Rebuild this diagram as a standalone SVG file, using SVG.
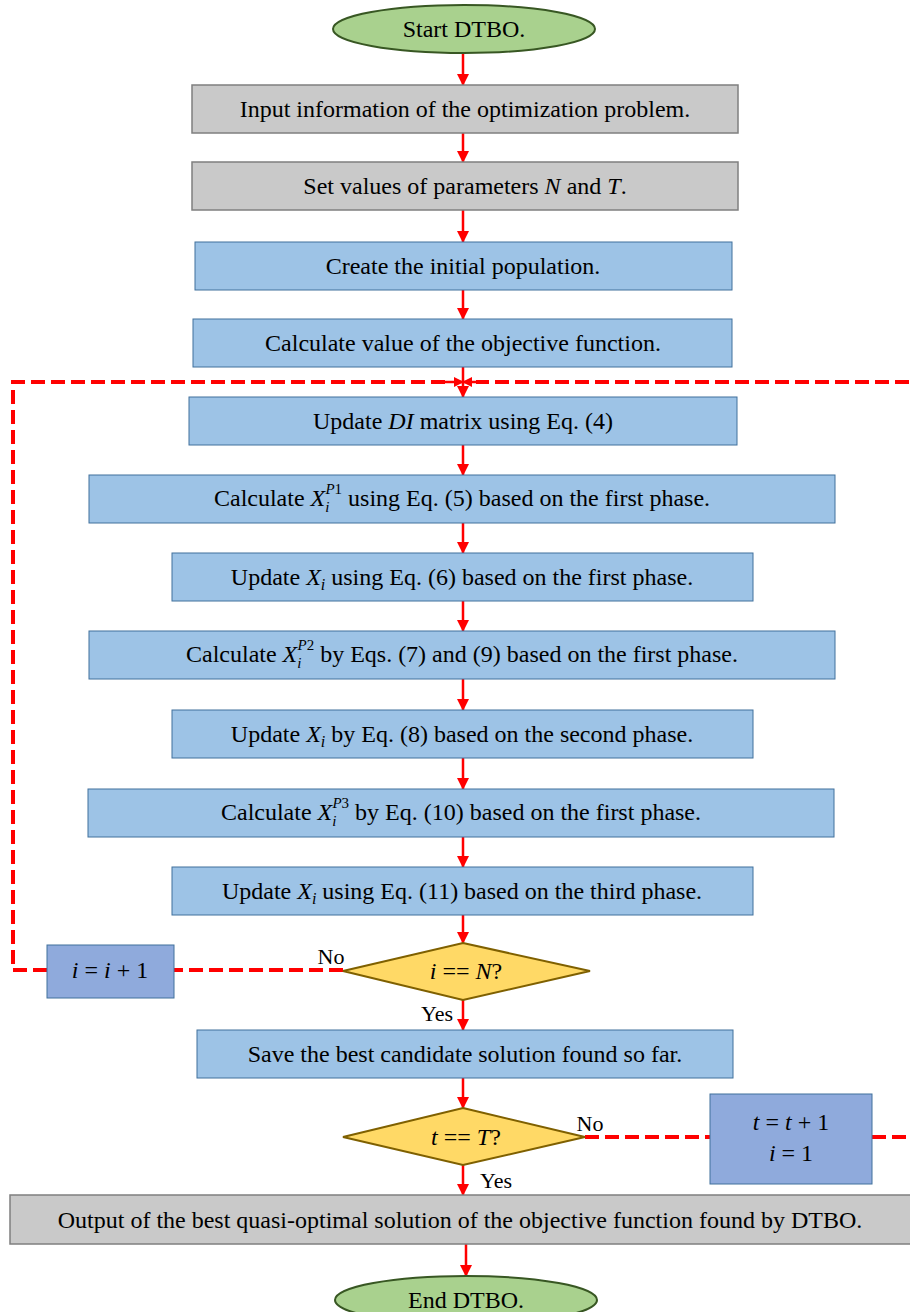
<svg xmlns="http://www.w3.org/2000/svg" width="910" height="1312" viewBox="0 0 910 1312">
<defs>
<style>
.t{font-family:"Liberation Serif","Times New Roman",serif;font-size:24px;fill:#000;text-anchor:middle}
.s{font-size:22px}
.m{font-style:italic}
.gray{fill:#c9c9c9;stroke:#7f7f7f;stroke-width:1.5}
.blue{fill:#9dc3e6;stroke:#41719c;stroke-width:1}
.blue2{fill:#8faadc;stroke:#41719c;stroke-width:1}
.ell{fill:#a9d18e;stroke:#385723;stroke-width:2}
.dia{fill:#ffd966;stroke:#7f6000;stroke-width:2}
.a{stroke:#ff0000;stroke-width:2.5;fill:none}
.d{stroke:#ff0000;stroke-width:4;fill:none;stroke-dasharray:14 6}
</style>
<marker id="ah" markerWidth="10" markerHeight="10" refX="9" refY="5" orient="auto" markerUnits="userSpaceOnUse" viewBox="0 0 10 10">
<path d="M0,0 L10,5 L0,10 z" fill="#ff0000"/>
</marker>
<marker id="ah2" markerWidth="12" markerHeight="12" refX="11" refY="6" orient="auto" markerUnits="userSpaceOnUse" viewBox="0 0 12 12">
<path d="M0,0 L12,6 L0,12 z" fill="#ff0000"/>
</marker>
</defs>

<g id="connectors">
<line class="a" x1="463" y1="53" x2="463" y2="85" marker-end="url(#ah2)"/>
<line class="a" x1="463" y1="133" x2="463" y2="162" marker-end="url(#ah2)"/>
<line class="a" x1="463" y1="210" x2="463" y2="242" marker-end="url(#ah2)"/>
<line class="a" x1="463" y1="290" x2="463" y2="319" marker-end="url(#ah2)"/>
<line class="a" x1="463" y1="367" x2="463" y2="397" marker-end="url(#ah2)"/>
<line class="a" x1="463" y1="445" x2="463" y2="475" marker-end="url(#ah2)"/>
<line class="a" x1="463" y1="523" x2="463" y2="553" marker-end="url(#ah2)"/>
<line class="a" x1="463" y1="601" x2="463" y2="631" marker-end="url(#ah2)"/>
<line class="a" x1="463" y1="679" x2="463" y2="710" marker-end="url(#ah2)"/>
<line class="a" x1="463" y1="758" x2="463" y2="789" marker-end="url(#ah2)"/>
<line class="a" x1="463" y1="837" x2="463" y2="867" marker-end="url(#ah2)"/>
<line class="a" x1="463" y1="915" x2="463" y2="943" marker-end="url(#ah2)"/>
<line class="a" x1="463" y1="1000" x2="463" y2="1030" marker-end="url(#ah2)"/>
<line class="a" x1="463" y1="1078" x2="463" y2="1108" marker-end="url(#ah2)"/>
<line class="a" x1="463" y1="1165" x2="463" y2="1195" marker-end="url(#ah2)"/>
<line class="a" x1="466" y1="1244" x2="466" y2="1276" marker-end="url(#ah2)"/>
<polyline class="d" points="343,970 174,970"/>
<polyline class="d" points="47,970 13,970 13,382 450,382"/>
<line class="a" x1="445" y1="382" x2="463" y2="382" marker-end="url(#ah)"/>
<polyline class="d" points="585,1137 710,1137"/>
<polyline class="d" points="872,1137 913,1137 913,382 476,382"/>
<line class="a" x1="481" y1="382" x2="463" y2="382" marker-end="url(#ah)"/>
<text class="t s" x="331" y="964">No</text>
<text class="t s" x="437" y="1021">Yes</text>
<text class="t s" x="590" y="1131">No</text>
<text class="t s" x="496" y="1188">Yes</text>
</g>

<g id="start">
<ellipse class="ell" cx="464" cy="29" rx="131" ry="24"/>
<text class="t" x="464" y="37">Start DTBO.</text>
</g>
<g id="input">
<rect class="gray" x="192" y="85" width="546" height="48"/>
<text class="t" x="465" y="117">Input information of the optimization problem.</text>
</g>
<g id="params">
<rect class="gray" x="192" y="162" width="546" height="48"/>
<text class="t" x="465" y="194">Set values of parameters <tspan class="m">N</tspan> and <tspan class="m">T</tspan>.</text>
</g>
<g id="init">
<rect class="blue" x="195" y="242" width="537" height="48"/>
<text class="t" x="463" y="274">Create the initial population.</text>
</g>
<g id="evaluate">
<rect class="blue" x="193" y="319" width="539" height="48"/>
<text class="t" x="463" y="351">Calculate value of the objective function.</text>
</g>
<g id="updateDI">
<rect class="blue" x="189" y="397" width="548" height="48"/>
<text class="t" x="463" y="429">Update  <tspan class="m">DI</tspan> matrix using Eq. (4)</text>
</g>
<g id="calcP1">
<rect class="blue" x="89" y="475" width="746" height="48"/>
<text class="t" x="462" y="506">Calculate  <tspan class="m">X</tspan><tspan class="m" font-size="15" dy="6">i</tspan><tspan font-size="15" dx="-4" dy="-18"><tspan class="m">P</tspan>1</tspan><tspan dy="12"> using Eq. (5) based on the first phase.</tspan></text>
</g>
<g id="update1">
<rect class="blue" x="172" y="553" width="581" height="48"/>
<text class="t" x="462" y="585">Update  <tspan class="m">X</tspan><tspan class="m" font-size="16" dy="5">i</tspan><tspan dy="-5"> using Eq. (6) based on the first phase.</tspan></text>
</g>
<g id="calcP2">
<rect class="blue" x="89" y="631" width="746" height="48"/>
<text class="t" x="462" y="662">Calculate  <tspan class="m">X</tspan><tspan class="m" font-size="15" dy="6">i</tspan><tspan font-size="15" dx="-4" dy="-18"><tspan class="m">P</tspan>2</tspan><tspan dy="12"> by Eqs. (7) and (9) based on the first phase.</tspan></text>
</g>
<g id="update2">
<rect class="blue" x="172" y="710" width="581" height="48"/>
<text class="t" x="462" y="742">Update  <tspan class="m">X</tspan><tspan class="m" font-size="16" dy="5">i</tspan><tspan dy="-5"> by Eq. (8) based on the second phase.</tspan></text>
</g>
<g id="calcP3">
<rect class="blue" x="88" y="789" width="746" height="48"/>
<text class="t" x="461" y="820">Calculate  <tspan class="m">X</tspan><tspan class="m" font-size="15" dy="6">i</tspan><tspan font-size="15" dx="-4" dy="-18"><tspan class="m">P</tspan>3</tspan><tspan dy="12"> by Eq. (10) based on the first phase.</tspan></text>
</g>
<g id="update3">
<rect class="blue" x="172" y="867" width="581" height="48"/>
<text class="t" x="462" y="899">Update  <tspan class="m">X</tspan><tspan class="m" font-size="16" dy="5">i</tspan><tspan dy="-5"> using Eq. (11) based on the third phase.</tspan></text>
</g>
<g id="checkN">
<polygon class="dia" points="463,943 590,971 463,1000 343,971"/>
<text class="t" x="466" y="979"><tspan class="m">i</tspan> ==  <tspan class="m">N</tspan>?</text>
</g>
<g id="incI">
<rect class="blue2" x="47" y="945" width="127" height="53"/>
<text class="t" x="110" y="978"><tspan class="m">i</tspan> = <tspan class="m">i</tspan> + 1</text>
</g>
<g id="save">
<rect class="blue" x="197" y="1030" width="536" height="48"/>
<text class="t" x="465" y="1062">Save the best candidate solution found so far.</text>
</g>
<g id="checkT">
<polygon class="dia" points="463,1108 585,1137 463,1165 343,1137"/>
<text class="t" x="466" y="1145"><tspan class="m">t</tspan> ==  <tspan class="m">T</tspan>?</text>
</g>
<g id="incT">
<rect class="blue2" x="710" y="1094" width="162" height="90"/>
<text class="t" x="791" y="1130"><tspan class="m">t</tspan> = <tspan class="m">t</tspan> + 1</text>
<text class="t" x="791" y="1161"><tspan class="m">i</tspan>  =  1</text>
</g>
<g id="output">
<rect class="gray" x="10" y="1195" width="910" height="49"/>
<text class="t" x="460" y="1228" font-size="25">Output of the best quasi-optimal solution of the objective function found by DTBO.</text>
</g>
<g id="end">
<ellipse class="ell" cx="466" cy="1300" rx="131" ry="24"/>
<text class="t" x="466" y="1308">End DTBO.</text>
</g>
</svg>
